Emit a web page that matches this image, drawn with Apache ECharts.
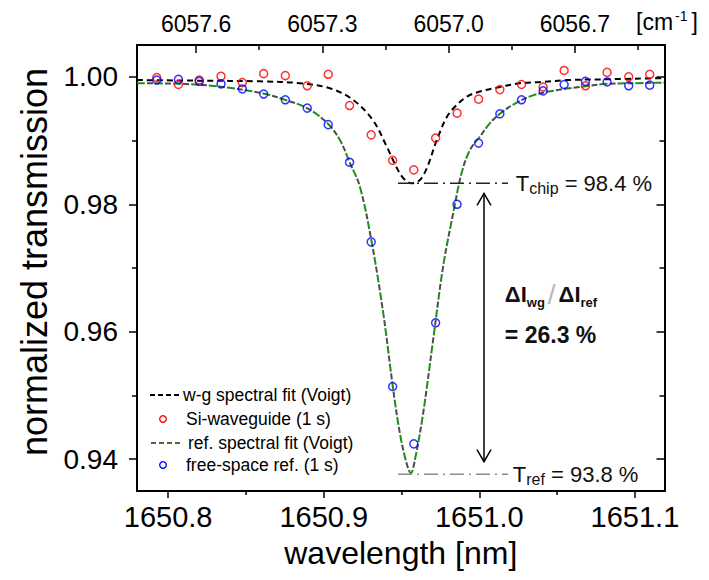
<!DOCTYPE html>
<html>
<head>
<meta charset="utf-8">
<script src="https://cdn.jsdelivr.net/npm/echarts@6/dist/echarts.min.js"></script>
<style>
  html, body { margin: 0; padding: 0; background: #fff; }
  #chart { width: 709px; height: 580px; }
</style>
</head>
<body>
<div id="chart"></div>
<script>
// Measured transmission spectra (wavelength in nm, normalized transmission)
const wavelength = [1650.7927, 1650.8066, 1650.8200, 1650.8340, 1650.8477, 1650.8614, 1650.8753, 1650.8894,
  1650.9029, 1650.9166, 1650.9305, 1650.9443, 1650.9579, 1650.9719, 1650.9857, 1650.9995,
  1651.0132, 1651.0271, 1651.0410, 1651.0545, 1651.0682, 1651.0821, 1651.0960, 1651.1095];
const siWaveguide = [0.9999, 0.9988, 0.9995, 1.0001, 0.9991, 1.0005, 1.0002, 0.9986,
  1.0004, 0.9955, 0.9909, 0.9869, 0.9854, 0.9904, 0.9943, 0.9965,
  0.9980, 0.9988, 0.9984, 1.0010, 0.9986, 1.0007, 1.0000, 1.0004];
const freeSpaceRef = [0.9995, 0.9996, 0.9993, 0.9989, 0.9981, 0.9973, 0.9964, 0.9951,
  0.9925, 0.9866, 0.9741, 0.9514, 0.9424, 0.9614, 0.9800, 0.9896,
  0.9942, 0.9964, 0.9978, 0.9988, 0.9993, 0.9992, 0.9986, 0.9987];

// Voigt fit curves
const wgFitWavelength = [1650.7800, 1650.8205, 1650.8590, 1650.8847, 1650.9040, 1650.9188, 1650.9316, 1650.9406,
  1650.9470, 1650.9515, 1650.9566, 1650.9618, 1650.9663, 1650.9727, 1650.9791, 1650.9843,
  1650.9920, 1651.0003, 1651.0132, 1651.0260, 1651.0408, 1651.0562, 1651.0774, 1651.1189];
const wgFitValue = [0.9995, 0.9994, 0.9993, 0.9990, 0.9982, 0.9964, 0.9932, 0.9890,
  0.9857, 0.9840, 0.9833, 0.9838, 0.9857, 0.9901, 0.9937, 0.9953,
  0.9969, 0.9977, 0.9984, 0.9990, 0.9992, 0.9995, 0.9996, 0.9998];
const refFitWavelength = [1650.7800, 1650.8096, 1650.8353, 1650.8610, 1650.8764, 1650.8892, 1650.9021, 1650.9104,
  1650.9168, 1650.9232, 1650.9308, 1650.9382, 1650.9444, 1650.9489, 1650.9532, 1650.9560,
  1650.9586, 1650.9639, 1650.9703, 1650.9767, 1650.9832, 1650.9886, 1650.9939, 1651.0003,
  1651.0067, 1651.0132, 1651.0215, 1651.0344, 1651.0496, 1651.0645, 1651.0817, 1651.0986, 1651.1189];
const refFitValue = [0.9990, 0.9989, 0.9984, 0.9974, 0.9963, 0.9951, 0.9928, 0.9901,
  0.9865, 0.9828, 0.9741, 0.9630, 0.9514, 0.9441, 0.9394, 0.9378,
  0.9399, 0.9472, 0.9587, 0.9702, 0.9786, 0.9849, 0.9885, 0.9906,
  0.9927, 0.9942, 0.9956, 0.9971, 0.9979, 0.9984, 0.9989, 0.9990, 0.9991];

// Axis ticks
const bottomTickLabels = [1650.8, 1650.9, 1651.0, 1651.1];
const bottomMinorTicks = [1650.85, 1650.95, 1651.05];
const topTickLabels = [6057.6, 6057.3, 6057.0, 6056.7];   // wavenumber, cm^-1
const topMinorTicks = [6057.45, 6057.15, 6056.85, 6056.55];
const yTickLabels = [0.94, 0.96, 0.98, 1.00];
const yMinorTicks = [0.95, 0.97, 0.99];

// Dip depths relative to each spectrum's baseline
const tChip = 0.984;
const tRef = 0.938;
const wgBaseline = 0.9993;
const refBaseline = 0.9996;
const ratioPercent = 26.3;

const FONT = 'Liberation Sans, Arial, Helvetica, sans-serif';
const pairs = (xs, ys) => xs.map((x, i) => [x, ys[i]]);

// annotation anchors in data coordinates
const levelSpan = [1650.9477, 1651.0184];
const arrowAt = 1651.003;
const arrowEnds = [0.9817, 0.9396];
const labelAt = 1651.0234;
const ratioAt = 1651.0164;
const ratioRows = [0.96577, 0.95954];

function drawAnnotations(params, api) {
  const chipY = api.coord([levelSpan[0], tChip * wgBaseline])[1];
  const refY = api.coord([levelSpan[0], tRef * refBaseline])[1];
  const x0 = api.coord([levelSpan[0], 1])[0];
  const x1 = api.coord([levelSpan[1], 1])[0];
  const ax = api.coord([arrowAt, 1])[0];
  const aTop = api.coord([arrowAt, arrowEnds[0]])[1];
  const aBot = api.coord([arrowAt, arrowEnds[1]])[1];
  const lx = api.coord([labelAt, 1])[0];
  const rx = api.coord([ratioAt, 1])[0];
  const r1 = api.coord([ratioAt, ratioRows[0]])[1];
  const r2 = api.coord([ratioAt, ratioRows[1]])[1];
  const dashDot = [14, 5, 2, 5];
  const tRich = {
    t: { fontFamily: FONT, fontSize: 22, lineHeight: 26, fill: '#111' },
    s: { fontFamily: FONT, fontSize: 16, lineHeight: 11, verticalAlign: 'bottom', fill: '#111' }
  };
  return {
    type: 'group',
    children: [
      { type: 'line', shape: { x1: x0, y1: chipY, x2: x1, y2: chipY },
        style: { stroke: '#222', lineWidth: 1.5, lineDash: dashDot } },
      { type: 'line', shape: { x1: x0, y1: refY, x2: x1, y2: refY },
        style: { stroke: '#8c8c8c', lineWidth: 1.5, lineDash: dashDot } },
      { type: 'line', shape: { x1: ax, y1: aTop, x2: ax, y2: aBot },
        style: { stroke: '#000', lineWidth: 1.5 } },
      { type: 'polyline', shape: { points: [[ax - 7, aTop + 12], [ax, aTop], [ax + 7, aTop + 12]] },
        style: { stroke: '#000', lineWidth: 1.5, fill: null } },
      { type: 'polyline', shape: { points: [[ax - 7, aBot - 12], [ax, aBot], [ax + 7, aBot - 12]] },
        style: { stroke: '#000', lineWidth: 1.5, fill: null } },
      { type: 'text', x: lx, y: chipY,
        style: { text: '{t|T}{s|chip}{t| = ' + (tChip * 100).toFixed(1) + ' %}',
          align: 'left', verticalAlign: 'middle', rich: tRich } },
      { type: 'text', x: lx - 3, y: refY,
        style: { text: '{t|T}{s|ref}{t| = ' + (tRef * 100).toFixed(1) + ' %}',
          align: 'left', verticalAlign: 'middle', rich: tRich } },
      { type: 'text', x: rx, y: r1,
        style: { text: '{b|ΔI}{bs|wg}{sl|/}{b|ΔI}{bs|ref}', align: 'left', verticalAlign: 'middle',
          rich: {
            b: { fontFamily: FONT, fontSize: 22, fontWeight: 'bold', lineHeight: 28, fill: '#111' },
            bs: { fontFamily: FONT, fontSize: 13, fontWeight: 'bold', lineHeight: 10, verticalAlign: 'bottom', fill: '#111', padding: [0, 2, 0, 0] },
            sl: { fontFamily: FONT, fontSize: 28, lineHeight: 24, verticalAlign: 'bottom', fill: '#b8b8b8', padding: [0, 3, 0, 1] }
          } } },
      { type: 'text', x: rx, y: r2,
        style: { text: '= ' + ratioPercent.toFixed(1) + ' %', align: 'left', verticalAlign: 'middle',
          fontFamily: FONT, fontSize: 23, fontWeight: 'bold', fill: '#111' } }
    ]
  };
}

const xRange = { min: 1650.78, max: 1651.119 };
const nuRange = { min: 6056.4872, max: 6057.7403 };
const yRange = { min: 0.935, max: 1.005 };
const frame = { show: true, lineStyle: { color: '#000', width: 2 } };
const noLine = { show: false };
const noSplit = { show: false };
const noLabel = { show: false };

const option = {
  animation: false,
  backgroundColor: '#fff',
  grid: { left: 137, top: 45, width: 527.5, height: 446, containLabel: false },
  xAxis: [
    { type: 'value', position: 'bottom', ...xRange, axisLine: frame, splitLine: noSplit,
      axisTick: { show: true, inside: false, length: 7, customValues: bottomTickLabels, lineStyle: { color: '#000', width: 1.5 } },
      axisLabel: { customValues: bottomTickLabels, formatter: v => v.toFixed(1), fontFamily: FONT, fontSize: 29, color: '#000', margin: 11 },
      name: 'wavelength [nm]', nameLocation: 'middle', nameGap: 46,
      nameTextStyle: { fontFamily: FONT, fontSize: 32, color: '#000' } },
    { type: 'value', position: 'top', ...nuRange, inverse: true, axisLine: frame, splitLine: noSplit,
      axisTick: { show: true, inside: true, length: 8, customValues: topTickLabels, lineStyle: { color: '#000', width: 1.5 } },
      axisLabel: { customValues: topTickLabels, formatter: v => v.toFixed(1), fontFamily: FONT, fontSize: 23, color: '#000', margin: 10 } },
    { type: 'value', position: 'bottom', ...xRange, axisLine: noLine, splitLine: noSplit, axisLabel: noLabel,
      axisTick: { show: true, inside: false, length: 4, customValues: bottomMinorTicks, lineStyle: { color: '#000', width: 1.5 } } },
    { type: 'value', position: 'top', ...nuRange, inverse: true, axisLine: noLine, splitLine: noSplit, axisLabel: noLabel,
      axisTick: { show: true, inside: true, length: 5, customValues: topMinorTicks, lineStyle: { color: '#000', width: 1.5 } } }
  ],
  yAxis: [
    { type: 'value', position: 'left', ...yRange, axisLine: frame, splitLine: noSplit,
      axisTick: { show: true, inside: false, length: 8, customValues: yTickLabels, lineStyle: { color: '#000', width: 1.5 } },
      axisLabel: { customValues: yTickLabels, formatter: v => v.toFixed(2), fontFamily: FONT, fontSize: 28, color: '#000', margin: 19 },
      name: 'normalized transmission', nameLocation: 'middle', nameGap: 84, nameRotate: 90,
      nameTextStyle: { fontFamily: FONT, fontSize: 36, color: '#000', padding: [0, 0, 0, 12] } },
    { type: 'value', position: 'right', ...yRange, axisLine: frame, splitLine: noSplit, axisLabel: noLabel,
      axisTick: { show: true, inside: true, length: 8, customValues: yTickLabels, lineStyle: { color: '#000', width: 1.5 } } },
    { type: 'value', position: 'left', ...yRange, axisLine: noLine, splitLine: noSplit, axisLabel: noLabel,
      axisTick: { show: true, inside: false, length: 5, customValues: yMinorTicks, lineStyle: { color: '#000', width: 1.5 } } },
    { type: 'value', position: 'right', ...yRange, axisLine: noLine, splitLine: noSplit, axisLabel: noLabel,
      axisTick: { show: true, inside: true, length: 5, customValues: yMinorTicks, lineStyle: { color: '#000', width: 1.5 } } }
  ],
  series: [
    { name: 'w-g spectral fit (Voigt)', type: 'line', data: pairs(wgFitWavelength, wgFitValue),
      smooth: 0.35, symbol: 'none', lineStyle: { color: '#000', width: 2, type: [6, 4] }, z: 2 },
    { name: 'ref. spectral fit (Voigt) shade', type: 'line', data: pairs(refFitWavelength, refFitValue),
      smooth: 0.35, symbol: 'none', lineStyle: { color: '#4d4d4d', width: 2, type: [6, 12], dashOffset: 8 }, z: 2 },
    { name: 'ref. spectral fit (Voigt)', type: 'line', data: pairs(refFitWavelength, refFitValue),
      smooth: 0.35, symbol: 'none', lineStyle: { color: '#1e8c1e', width: 2, type: [8, 10] }, z: 2 },
    { name: 'Si-waveguide (1 s)', type: 'scatter', data: pairs(wavelength, siWaveguide),
      symbol: 'circle', symbolSize: 8,
      itemStyle: { color: 'rgba(0,0,0,0)', borderColor: '#ff0000', borderWidth: 1.5 }, z: 3 },
    { name: 'free-space ref. (1 s)', type: 'scatter', data: pairs(wavelength, freeSpaceRef),
      symbol: 'circle', symbolSize: 8,
      itemStyle: { color: 'rgba(0,0,0,0)', borderColor: '#0000ff', borderWidth: 1.5 }, z: 4 },
    { type: 'custom', silent: true, data: [[arrowAt, tChip]], renderItem: drawAnnotations, z: 5 }
  ],
  graphic: [
    // wavenumber unit at the top axis
    { type: 'text', x: 636, y: 22,
      style: { text: '{n|[cm}{u|-1}{n|]}', verticalAlign: 'middle', align: 'left',
        rich: {
          n: { fontFamily: FONT, fontSize: 23, lineHeight: 26, fill: '#000' },
          u: { fontFamily: FONT, fontSize: 14, lineHeight: 14, verticalAlign: 'top', fill: '#000', padding: [0, 4, 0, 2] }
        } } },
    // legend
    { type: 'line', shape: { x1: 150, y1: 395, x2: 180, y2: 395 }, style: { stroke: '#000', lineWidth: 2, lineDash: [5, 3] } },
    { type: 'text', x: 183, y: 395, style: { text: 'w-g spectral fit (Voigt)', fontFamily: FONT, fontSize: 17.5, fill: '#000', verticalAlign: 'middle' } },
    { type: 'circle', shape: { cx: 163, cy: 419, r: 3.3 }, style: { fill: null, stroke: '#ff0000', lineWidth: 1.3 } },
    { type: 'text', x: 186, y: 419, style: { text: 'Si-waveguide (1 s)', fontFamily: FONT, fontSize: 17.5, fill: '#000', verticalAlign: 'middle' } },
    { type: 'line', shape: { x1: 151, y1: 443, x2: 180, y2: 443 }, style: { stroke: '#556b2f', lineWidth: 2, lineDash: [5, 3] } },
    { type: 'text', x: 188, y: 443, style: { text: 'ref. spectral fit (Voigt)', fontFamily: FONT, fontSize: 17.5, fill: '#000', verticalAlign: 'middle' } },
    { type: 'circle', shape: { cx: 163, cy: 465, r: 3.3 }, style: { fill: null, stroke: '#0000ff', lineWidth: 1.3 } },
    { type: 'text', x: 186, y: 465, style: { text: 'free-space ref. (1 s)', fontFamily: FONT, fontSize: 17.5, fill: '#000', verticalAlign: 'middle' } }
  ]
};

const chart = echarts.init(document.getElementById('chart'), null, { renderer: 'svg' });
chart.setOption(option);
</script>
</body>
</html>
